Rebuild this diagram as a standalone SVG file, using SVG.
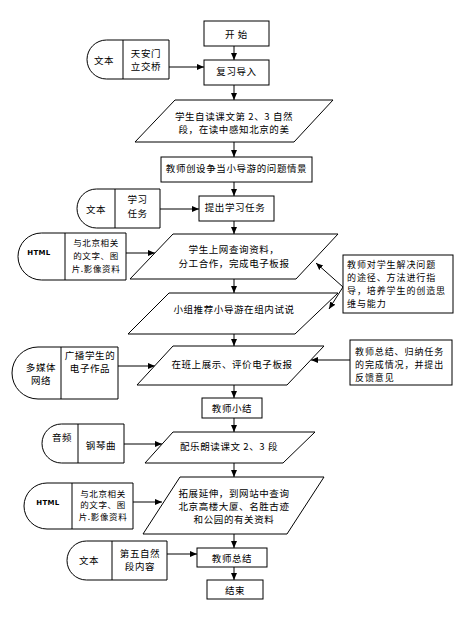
<svg xmlns="http://www.w3.org/2000/svg" width="460" height="624" viewBox="0 0 460 624">
<style>
.s{fill:#fff;stroke:#000;stroke-width:1}
.d{fill:none;stroke:#000;stroke-width:1}
text{font-family:"Noto Sans CJK SC","Noto Sans CJK JP",sans-serif;font-size:9.5px;fill:#000;text-anchor:middle;dominant-baseline:central;letter-spacing:0.6px}
.sm{font-size:8.5px}
.n{font-size:9px;letter-spacing:0.9px}
.l{text-anchor:start}
.h{font-family:"DejaVu Sans",sans-serif;font-weight:bold;font-size:7px;letter-spacing:0.3px}
.c{fill:none;stroke:#000;stroke-width:1;marker-end:url(#a)}
</style>
<defs>
<marker id="a" markerWidth="8" markerHeight="8" refX="7" refY="4" orient="auto" markerUnits="userSpaceOnUse">
<path d="M0,1 L7,4 L0,7 Z" fill="#000"/>
</marker>
</defs>
<rect width="460" height="624" fill="#fff"/>
<g id="connectors">
<line class="c" x1="234" y1="46" x2="234" y2="60"/>
<line class="c" x1="234" y1="85" x2="234" y2="100"/>
<line class="c" x1="234" y1="142" x2="234" y2="157"/>
<line class="c" x1="234" y1="182" x2="234" y2="196"/>
<line class="c" x1="234" y1="221" x2="234" y2="234"/>
<line class="c" x1="234" y1="279" x2="234" y2="293"/>
<line class="c" x1="234" y1="334" x2="234" y2="346"/>
<line class="c" x1="234" y1="385" x2="234" y2="398"/>
<line class="c" x1="234" y1="418" x2="234" y2="432"/>
<line class="c" x1="234" y1="463" x2="234" y2="477"/>
<line class="c" x1="234" y1="534" x2="234" y2="548"/>
<line class="c" x1="234" y1="567" x2="234" y2="580"/>
<line class="c" x1="169" y1="67" x2="204" y2="67"/>
<line class="c" x1="160" y1="209" x2="199" y2="209"/>
<line class="c" x1="126" y1="253" x2="155" y2="253"/>
<line class="c" x1="118" y1="366" x2="155" y2="366"/>
<line class="c" x1="124" y1="444" x2="162" y2="444"/>
<line class="c" x1="133" y1="502" x2="162" y2="502"/>
<line class="c" x1="167" y1="554" x2="197" y2="554"/>
<line class="c" x1="350" y1="360" x2="311" y2="360"/>
<line class="c" x1="343" y1="287" x2="316" y2="263"/>
<line class="c" x1="343" y1="287" x2="329" y2="309"/>
</g>
<g id="start">
<rect class="s" x="204" y="21" width="65" height="25"/>
<text x="236.5" y="33.5">开 始</text>
</g>
<g id="review">
<rect class="s" x="204" y="60" width="65" height="25"/>
<text x="236.5" y="71">复习导入</text>
</g>
<g id="doc1">
<path class="s" d="M169,40 H106.5 A19.5,19.5 0 0 0 106.5,79 H169 Z"/>
<line class="d" x1="123" y1="40" x2="123" y2="79"/>
<text x="104" y="59.5">文本</text>
<text x="146" y="53">天安门</text>
<text x="146" y="66">立交桥</text>
</g>
<g id="read">
<path class="s" d="M175,100 H333 L294,142 H135 Z"/>
<text x="234" y="116">学生自读课文第 2、3 自然</text>
<text x="234" y="129">段，在读中感知北京的美</text>
</g>
<g id="scene">
<rect class="s" x="161" y="157" width="151" height="25"/>
<text x="236.5" y="168">教师创设争当小导游的问题情景</text>
</g>
<g id="doc2">
<path class="s" d="M160,189 H96.5 A19.5,19.5 0 0 0 96.5,228 H160 Z"/>
<line class="d" x1="115" y1="189" x2="115" y2="228"/>
<text x="96" y="208.5">文本</text>
<text x="137.5" y="199">学习</text>
<text x="137.5" y="213">任务</text>
</g>
<g id="task">
<rect class="s" x="199" y="196" width="75" height="25"/>
<text x="235" y="207">提出学习任务</text>
</g>
<g id="html1">
<path class="s" d="M126,233 H41.5 A23.5,23.5 0 0 0 41.5,280 H126 Z"/>
<line class="d" x1="65" y1="233" x2="65" y2="280"/>
<text class="h" x="39" y="253">HTML</text>
<text class="sm" x="96" y="242">与北京相关</text>
<text class="sm" x="96" y="255">的文字、图</text>
<text class="sm" x="96" y="268">片.影像资料</text>
</g>
<g id="search">
<path class="s" d="M173,234 H338 L296,279 H130 Z"/>
<text x="234" y="249">学生上网查询资料，</text>
<text x="234" y="263">分工合作，完成电子板报</text>
</g>
<g id="note1">
<rect class="s" x="343" y="255" width="110" height="58"/>
<text class="l n" x="347" y="264">教师对学生解决问题</text>
<text class="l n" x="347" y="277">的途径、方法进行指</text>
<text class="l n" x="347" y="290">导，培养学生的创造思</text>
<text class="l n" x="347" y="303">维与能力</text>
</g>
<g id="group">
<path class="s" d="M169,293 H338 L295,334 H128 Z"/>
<text x="234" y="309">小组推荐小导游在组内试说</text>
</g>
<g id="media">
<path class="s" d="M118,347 H38 A26,26 0 0 0 38,399 H118 Z"/>
<line class="d" x1="61" y1="347" x2="61" y2="399"/>
<text x="41" y="367">多媒体</text>
<text x="41" y="380">网络</text>
<text x="90" y="355">广播学生的</text>
<text x="90" y="368">电子作品</text>
</g>
<g id="show">
<path class="s" d="M173,346 H324 L287,385 H137 Z"/>
<text x="232" y="364">在班上展示、评价电子板报</text>
</g>
<g id="note2">
<rect class="s" x="350" y="340" width="102" height="45"/>
<text class="l n" x="355" y="351">教师总结、归纳任务</text>
<text class="l n" x="355" y="364">的完成情况，并提出</text>
<text class="l n" x="355" y="377">反馈意见</text>
</g>
<g id="summary1">
<rect class="s" x="202" y="398" width="60" height="20"/>
<text x="232" y="408">教师小结</text>
</g>
<g id="audio">
<path class="s" d="M124,424 H61.5 A19.5,19.5 0 0 0 61.5,463 H124 Z"/>
<line class="d" x1="78" y1="424" x2="78" y2="463"/>
<text x="62" y="437">音频</text>
<text x="101" y="445">钢琴曲</text>
</g>
<g id="music">
<path class="s" d="M173,432 H315 L283,463 H145 Z"/>
<text x="229" y="446">配乐朗读课文 2、3 段</text>
</g>
<g id="html2">
<path class="s" d="M133,483 H47 A23,23 0 0 0 47,529 H133 Z"/>
<line class="d" x1="72" y1="483" x2="72" y2="529"/>
<text class="h" x="48" y="503">HTML</text>
<text class="sm" x="103" y="493">与北京相关</text>
<text class="sm" x="103" y="504">的文字、图</text>
<text class="sm" x="103" y="516">片.影像资料</text>
</g>
<g id="extend">
<path class="s" d="M180,477 H324 L287,534 H143 Z"/>
<text x="234" y="493">拓展延伸，到网站中查询</text>
<text x="234" y="506">北京高楼大厦、名胜古迹</text>
<text x="234" y="519">和公园的有关资料</text>
</g>
<g id="doc3">
<path class="s" d="M167,541 H86.5 A19.5,19.5 0 0 0 86.5,580 H167 Z"/>
<line class="d" x1="112" y1="541" x2="112" y2="580"/>
<text x="89" y="560">文本</text>
<text x="140" y="553">第五自然</text>
<text x="140" y="566">段内容</text>
</g>
<g id="summary2">
<rect class="s" x="197" y="548" width="70" height="19"/>
<text x="232" y="557.5">教师总结</text>
</g>
<g id="end">
<rect class="s" x="207" y="580" width="56" height="19"/>
<text x="235" y="589.5">结束</text>
</g>
</svg>
